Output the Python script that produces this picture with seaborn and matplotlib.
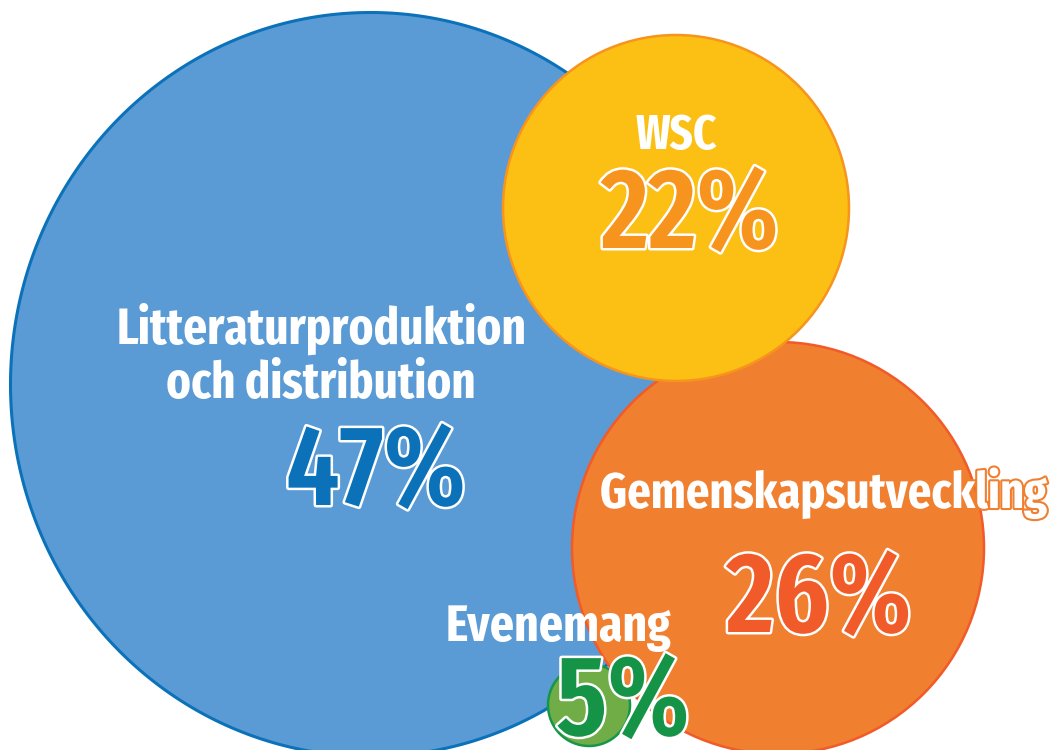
import matplotlib
matplotlib.use("Agg")
import matplotlib.pyplot as plt
import seaborn as sns
import numpy as np
import pandas as pd
from matplotlib.path import Path
from matplotlib.textpath import TextPath
from matplotlib.font_manager import FontProperties
import matplotlib.patheffects as pe

# ---------------- data ----------------
categories = ["Litteraturproduktion\noch distribution", "WSC", "Gemenskapsutveckling", "Evenemang"]
shares = [47, 22, 26, 5]
pct_labels = [f"{v}%" for v in shares]

# ---------------- layout (pixels, y downwards) ----------------
cx = [370, 676, 778, 589]
cy = [384, 208, 548, 705]
rx = [360, 173, 206, 41]
ry = [372, 173, 206, 41]
fills = ["#5B9BD5", "#FCBF14", "#F07F30", "#70AD47"]
edges = ["#0B72BA", "#F7941E", "#F15A29", "#16964A"]
edge_w = [2.2, 1.8, 1.8, 1.8]
pct_colors = ["#0B72BA", "#F7941E", "#F15A29", "#159447"]

# label lines: (x centre, baseline, target width, target cap height)
label_pos = [[(322, 344, 406, 35), (321, 398, 306, 35)],
             [(676, 149, 81, 37)],
             [(823, 508, 446, 37)],
             [(558, 641, 226, 34)]]
label_stroke = [None, None, "#F07F30", None]
# percentages: (x centre, baseline)
pct_pos = [(376, 505), (690, 248), (819, 632), (623, 735)]
PCT_H = 86

sns.set_theme(style="white")
FAM = ["Fira Sans Extra Condensed", "DejaVu Sans"]
plt.rcParams["font.family"] = FAM

fig = plt.figure(figsize=(10.52, 7.5), dpi=100)
ax = fig.add_axes([0, 0, 1, 1])

df = pd.DataFrame({"cat": categories, "share": shares, "x": cx, "y": cy})
pal = dict(zip(categories, fills))
PT = 72 / 100.0

# blue bubble: slightly elliptical custom marker
t = np.linspace(0, 2 * np.pi, 400)
ell = Path(np.column_stack([rx[0] / ry[0] * np.cos(t), np.sin(t)]), closed=True)
sns.scatterplot(data=df.iloc[[0]], x="x", y="y", hue="cat", palette=pal, marker=ell,
                s=(2 * ry[0] * PT) ** 2, edgecolor=edges[0], linewidth=edge_w[0],
                legend=False, ax=ax, zorder=1)
order = [2, 1, 3]
sns.scatterplot(data=df.iloc[order], x="x", y="y", hue="cat", palette=pal, marker="o",
                s=[(2 * ry[i] * PT) ** 2 for i in order],
                edgecolor=[edges[i] for i in order], linewidth=[edge_w[i] for i in order],
                legend=False, ax=ax, zorder=2)
ax.set_xlim(0, 1052)
ax.set_ylim(750, 0)
ax.axis("off")

fp_lab = FontProperties(family=FAM[0], weight="bold")
fp_pct = FontProperties(family=FAM[0], weight="semibold")

def em_ext(s, fp):
    e = TextPath((0, 0), s, size=100, prop=fp).get_extents()
    return e.width / 100.0, e.height / 100.0

cap_ratio = em_ext("H", fp_lab)[1]

# category labels (size mostly driven by the measured width)
for i, cat in enumerate(categories):
    for line, (x, yb, tw, tc) in zip(cat.split("\n"), label_pos[i]):
        w_em = em_ext(line, fp_lab)[0]
        size_px = (tw / w_em) ** 0.8 * (tc / cap_ratio) ** 0.2
        size_px = min(size_px, tw / w_em)
        kw = {}
        if label_stroke[i]:
            kw["path_effects"] = [pe.withStroke(linewidth=3.0, foreground=label_stroke[i])]
        ax.text(x, yb, line, ha="center", va="baseline", color="white",
                fontsize=size_px * PT, fontweight="bold", zorder=5, **kw)

# percentages
h_em = em_ext("47%", fp_pct)[1]
pct_size = PCT_H / h_em * PT
for i, lab in enumerate(pct_labels):
    x, yb = pct_pos[i]
    ax.text(x, yb, lab, ha="center", va="baseline", color=pct_colors[i],
            fontsize=pct_size, fontweight="semibold", zorder=6,
            path_effects=[pe.withStroke(linewidth=3.6, foreground="white")])

fig.savefig("out.png", dpi=100)
